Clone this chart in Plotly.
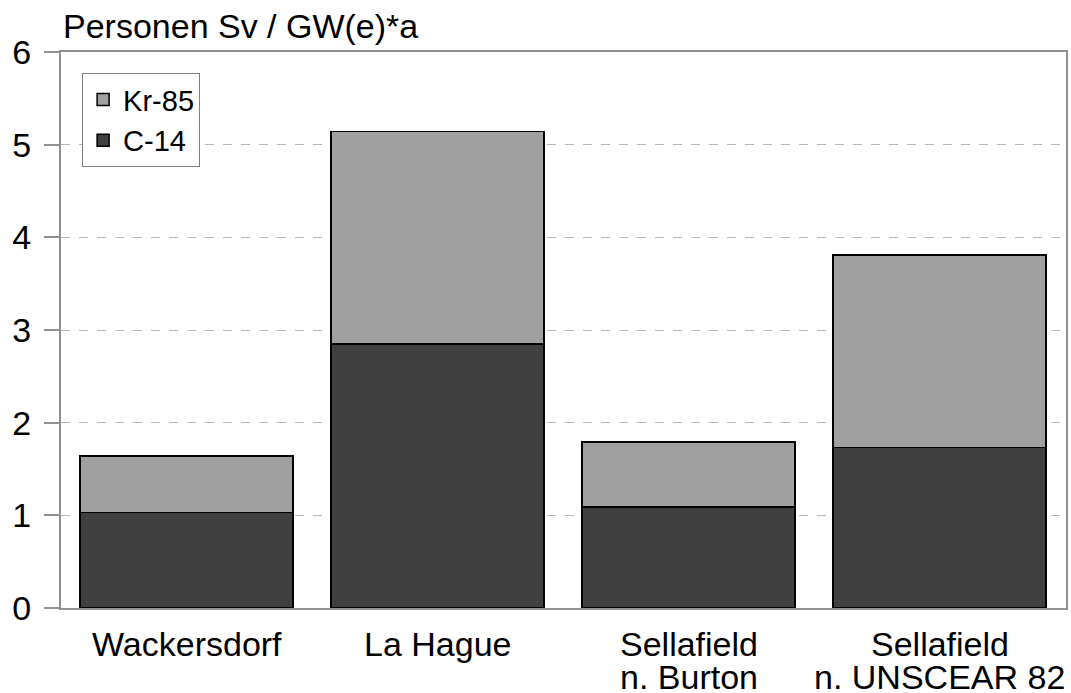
import plotly.graph_objects as go

categories = ["Wackersdorf", "La Hague", "Sellafield\nn. Burton", "Sellafield\nn. UNSCEAR 82"]
c14 = [1.03, 2.85, 1.09, 1.73]
kr85 = [0.61, 2.29, 0.70, 2.08]
y_ticks = [0, 1, 2, 3, 4, 5, 6]

FONT = "Liberation Sans, Arial, sans-serif"
FS = 34

fig = go.Figure()
fig.add_trace(go.Bar(x=categories, y=c14, name="C-14",
                     marker=dict(color="#404040", line=dict(color="black", width=1.5))))
fig.add_trace(go.Bar(x=categories, y=kr85, name="Kr-85",
                     marker=dict(color="#A0A0A0", line=dict(color="black", width=1.5))))

# category labels (two-line labels with tight line spacing as in reference)
line_y = [-0.064, -0.1245]
annotations = []
for cat in categories:
    for i, part in enumerate(cat.split("\n")):
        annotations.append(dict(text=part, x=cat, y=line_y[i], xref="x", yref="paper",
                                xanchor="center", yanchor="middle", showarrow=False,
                                borderpad=0,
                                font=dict(size=FS, family=FONT, color="black")))
annotations.append(dict(text="Personen Sv / GW(e)*a", x=0, y=1.046, xref="paper", yref="paper",
                        xanchor="left", yanchor="middle", showarrow=False,
                        font=dict(size=FS, family=FONT, color="black")))

fig.update_layout(
    width=1071, height=693,
    barmode="stack", bargap=0.15,
    plot_bgcolor="white", paper_bgcolor="white",
    margin=dict(l=61, r=5, t=52, b=85),
    font=dict(family=FONT, size=FS, color="black"),
    showlegend=True,
    legend=dict(x=0.021, y=0.962, xanchor="left", yanchor="top",
                traceorder="reversed", bgcolor="white",
                bordercolor="#808080", borderwidth=1,
                font=dict(size=29, family=FONT), itemwidth=30,
                tracegroupgap=0),
    xaxis=dict(showline=True, linecolor="#909090", linewidth=2, mirror=True,
               showgrid=False, ticks="", showticklabels=False, automargin=False),
    yaxis=dict(range=[0, 6], tickvals=y_ticks, showline=True, linecolor="#909090",
               linewidth=2, mirror=True, ticks="outside", ticklen=15,
               tickcolor="#909090", tickwidth=1.5, automargin=False,
               ticklabelstandoff=6,
               showgrid=True, gridcolor="#b8b8b8", griddash="dash", gridwidth=1,
               zeroline=False, tickfont=dict(size=FS)),
    annotations=annotations,
)

fig.write_html("out.html", config={"displayModeBar": False},
               post_script="document.body.style.margin='0';document.body.style.overflow='hidden';")
